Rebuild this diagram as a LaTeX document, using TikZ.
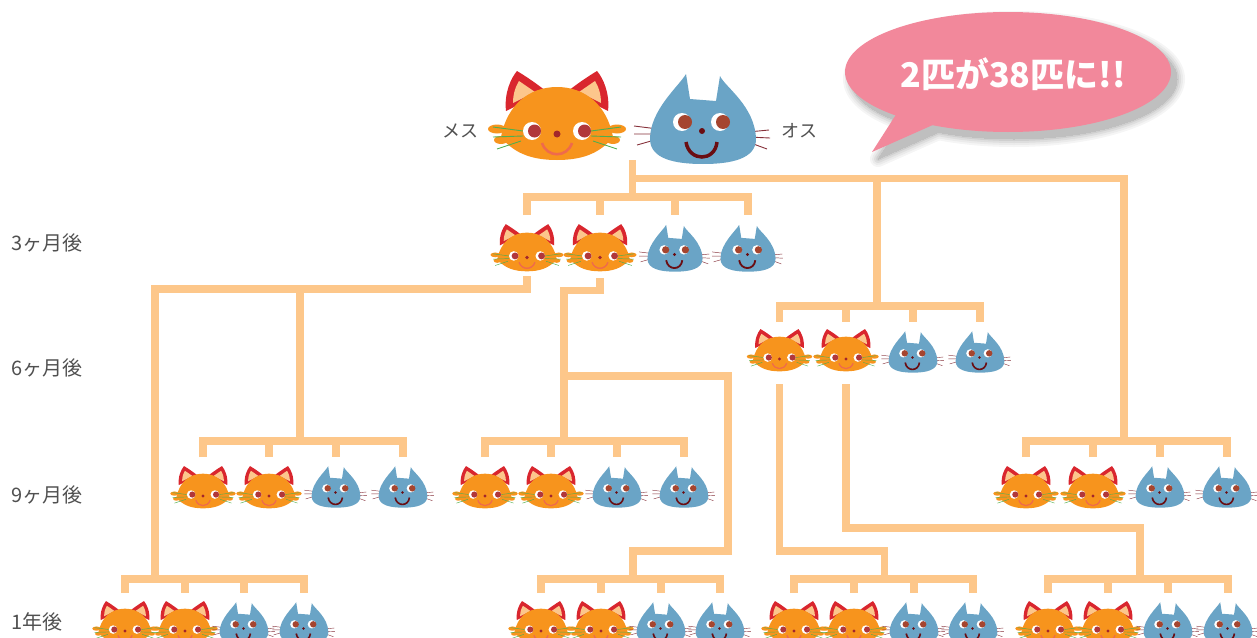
\documentclass[tikz,border=0pt]{standalone}
\usepackage{fontspec}
\setmainfont{Noto Sans CJK JP}
\usetikzlibrary{calc}

\definecolor{treeline}{HTML}{FDC78A}
\definecolor{catorange}{HTML}{F7941D}
\definecolor{earred}{HTML}{D9262E}
\definecolor{earpink}{HTML}{FCC68C}
\definecolor{irisred}{HTML}{B1373A}
\definecolor{noseo}{HTML}{A3262B}
\definecolor{mouthorange}{HTML}{EF6A4C}
\definecolor{whiskgreen}{HTML}{4FAE4F}
\definecolor{catblue}{HTML}{6AA4C6}
\definecolor{irisbrown}{HTML}{A5452F}
\definecolor{darkred}{HTML}{6A0D12}
\definecolor{whiskred}{HTML}{86313A}
\definecolor{bubblepink}{HTML}{F2889B}
\definecolor{labelgrey}{HTML}{505050}

\tikzset{
  tree/.style={draw=treeline, line width=7.5pt},
  agelabel/.style={anchor=west, inner sep=0pt, text=labelgrey, font=\fontsize{20}{20}\selectfont},
  sexlabel/.style={inner sep=0pt, text=labelgrey, font=\fontsize{18}{18}\selectfont},
  % orange (female) cat face, origin at the cheek line
  ocat/.pic={
    \begin{scope}[scale=#1]
      \pgfmathsetmacro\cs{#1}
      % ears
      \fill[earred] (-51,-22) .. controls (-53,-40) and (-46,-55) .. (-40,-62)
        .. controls (-30,-56) and (-20,-49) .. (-11,-42) -- cycle;
      \fill[earpink] (-44,-30) .. controls (-44,-40) and (-41,-47) .. (-38,-52)
        -- (-22,-41) -- cycle;
      \fill[earred] (51,-22) .. controls (53,-40) and (46,-55) .. (40,-62)
        .. controls (30,-56) and (20,-49) .. (11,-42) -- cycle;
      \fill[earpink] (44,-30) .. controls (44,-40) and (41,-47) .. (38,-52)
        -- (22,-41) -- cycle;
      % cheek tufts
      \fill[catorange] (-60,-4) ellipse (9 and 4.5);
      \fill[catorange] (-56,7) ellipse (7 and 4);
      \fill[catorange] (60,-4) ellipse (9 and 4.5);
      \fill[catorange] (56,7) ellipse (7 and 4);
      % head
      \fill[catorange] (-56,4) .. controls (-50,-28) and (-28,-46) .. (0,-46)
        .. controls (28,-46) and (50,-28) .. (56,4)
        .. controls (42,22) and (22,27) .. (0,27)
        .. controls (-22,27) and (-42,22) .. cycle;
      % whiskers
      \draw[whiskgreen, line width=\cs*0.9pt]
        (-34,-2) -- (-64,-6) (-34,3) -- (-64,4) (-36,8) -- (-60,16)
        (34,-2) -- (64,-6) (34,3) -- (64,4) (36,8) -- (60,16);
      % eyes, nose, mouth
      \fill[white] (-25,-2) circle (9);
      \fill[irisred] (-22.5,-2) circle (6.5);
      \fill[white] (25,-2) circle (9);
      \fill[irisred] (27.5,-2) circle (6.5);
      \fill[noseo] (0,1) circle (3.5);
      \draw[mouthorange, line width=\cs*2.6pt] (-15,10) .. controls (-10,25) and (10,25) .. (15,10);
    \end{scope}
  },
  % blue (male) cat face, origin at the cheek line
  bcat/.pic={
    \begin{scope}[scale=#1]
      \pgfmathsetmacro\cs{#1}
      % whiskers
      \draw[whiskred, line width=\cs*0.9pt]
        (-45,-1) -- (-69,-4) (-45,4) -- (-69,4) (-45,9) -- (-66,15)
        (45,2) -- (66,0) (45,7) -- (67,8) (45,12) -- (64,19);
      % head with ears
      \fill[catblue] (-17,-56) -- (-13,-31) -- (13,-29) -- (17,-54)
        .. controls (22,-43) and (52,-24) .. (53,9)
        .. controls (53,29) and (28,34) .. (0,34)
        .. controls (-28,34) and (-53,29) .. (-53,9)
        .. controls (-53,-20) and (-24,-44) .. cycle;
      % eyes, nose, mouth
      \fill[white] (-21,-8) circle (9);
      \fill[irisbrown] (-18,-8) circle (7);
      \fill[white] (17,-8) circle (9);
      \fill[irisbrown] (20,-8) circle (7);
      \fill[darkred] (-1,1) circle (3);
      \draw[darkred, line width=\cs*3.5pt] (-17,12) .. controls (-14,32) and (12,32) .. (14,12);
    \end{scope}
  },
}

% bracket joining four siblings: bar at #5, drops down to #6
\newcommand\litter[6]{%
  \draw[tree] (#1 |- 0,#6) -- (#1 |- 0,#5) -- (#4 |- 0,#5) -- (#4 |- 0,#6);
  \draw[tree] (#2 |- 0,#5) -- (#2 |- 0,#6);
  \draw[tree] (#3 |- 0,#5) -- (#3 |- 0,#6);
}

\begin{document}
\begin{tikzpicture}[x=1pt,y=-1pt]
\useasboundingbox (0,0) rectangle (1257,637);

% ---- positions of the cats ----
\coordinate (mom) at (557,133);
\coordinate (dad) at (703,130);
% 3 months
\coordinate (a1) at (527,257); \coordinate (a2) at (600,257);
\coordinate (a3) at (675,254); \coordinate (a4) at (748,254);
% 6 months
\coordinate (b1) at (779.5,358.5); \coordinate (b2) at (846,358.5);
\coordinate (b3) at (913,357); \coordinate (b4) at (980,357);
% 9 months
\coordinate (c1) at (203,495.5); \coordinate (c2) at (269,495.5);
\coordinate (c3) at (336,492); \coordinate (c4) at (403,492);
\coordinate (d1) at (485,495.5); \coordinate (d2) at (551,495.5);
\coordinate (d3) at (617,492); \coordinate (d4) at (684,492);
\coordinate (e1) at (1026,495.5); \coordinate (e2) at (1093,495.5);
\coordinate (e3) at (1160,492); \coordinate (e4) at (1227,492);
% 1 year
\coordinate (f1) at (125,630.5); \coordinate (f2) at (185,630.5);
\coordinate (f3) at (244,628); \coordinate (f4) at (304,628);
\coordinate (g1) at (541,630.5); \coordinate (g2) at (601,630.5);
\coordinate (g3) at (661,628); \coordinate (g4) at (720,628);
\coordinate (h1) at (794,630.5); \coordinate (h2) at (854,630.5);
\coordinate (h3) at (914,628); \coordinate (h4) at (973,628);
\coordinate (i1) at (1048,630.5); \coordinate (i2) at (1108,630.5);
\coordinate (i3) at (1168,628); \coordinate (i4) at (1228,628);

% junction points where a line meets a sibling bar
\coordinate (stem) at (632.5,160);
\coordinate (jb) at (877,306);
\coordinate (je) at (1124,441);
\coordinate (jc) at (300,441);
\coordinate (jd) at (564,441);
\coordinate (jf) at (155,579);
\coordinate (jg) at (633,579);
\coordinate (jh) at (884.5,579);
\coordinate (ji) at (1140,579);

% ---- family lines ----
\draw[tree] (stem) -- (stem |- 0,197);
\draw[tree] (stem |- 0,178.5) -| (je);
\draw[tree] (jb |- 0,178.5) -- (jb);
\litter{a1}{a2}{a3}{a4}{197}{215}

\draw[tree] (a1 |- 0,276) |- (jf |- 0,289) -- (jf);
\draw[tree] (jc |- 0,289) -- (jc);
\draw[tree] (a2 |- 0,278) |- (jd |- 0,290.5) -- (jd);
\draw[tree] (jd |- 0,376) -| (728,551) -| (jg);

\litter{b1}{b2}{b3}{b4}{306}{322}
\draw[tree] (b1 |- 0,384) -- (b1 |- 0,551) -| (jh);
\draw[tree] (b2 |- 0,384) -- (b2 |- 0,528) -| (ji);

\litter{c1}{c2}{c3}{c4}{441}{457}
\litter{d1}{d2}{d3}{d4}{441}{457}
\litter{e1}{e2}{e3}{e4}{441}{457}
\litter{f1}{f2}{f3}{f4}{579}{593}
\litter{g1}{g2}{g3}{g4}{579}{593}
\litter{h1}{h2}{h3}{h4}{579}{593}
\litter{i1}{i2}{i3}{i4}{579}{593}

% ---- cats ----
\pic at (mom) {ocat=1};
\pic at (dad) {bcat=1};
\foreach \c in {a1,a2} \pic at (\c) {ocat=0.53};
\foreach \c in {a3,a4} \pic at (\c) {bcat=0.52};
\foreach \c in {b1,b2,c1,c2,d1,d2,e1,e2,f1,f2,g1,g2,h1,h2,i1,i2} \pic at (\c) {ocat=0.475};
\foreach \c in {b3,b4,c3,c4,d3,d4,e3,e4,f3,f4,g3,g4,h3,h4,i3,i4} \pic at (\c) {bcat=0.46};

% ---- labels ----
\node[sexlabel] (female) at (460,131) {メス};
\node[sexlabel] (male) at (799,131) {オス};
\node[agelabel] (m3) at (11,243) {3ヶ月後};
\node[agelabel] (m6) at (11,368) {6ヶ月後};
\node[agelabel] (m9) at (11,495) {9ヶ月後};
\node[agelabel] (y1) at (11,622) {1年後};

% ---- speech bubble with soft shadow ----
\foreach \e/\g in {8/4,6/8,4/13,2/19,0/25} {
  \filldraw[shift={(6,7)}, draw=black!\g, fill=black!\g, line width=2*\e pt, line join=round]
    (1008,72) ellipse (163 and 60);
  \filldraw[shift={(6,7)}, draw=black!\g, fill=black!\g, line width=2*\e pt, line join=round]
    (897,113) -- (872,152) -- (935,124) -- cycle;
}
\fill[bubblepink] (1008,72) ellipse (163 and 60);
\fill[bubblepink] (897,113) -- (872,152) -- (935,124) -- cycle;
\node[text=white, font=\bfseries\fontsize{34}{34}\selectfont] (slogan) at (1013,74) {2匹が38匹に!!};
\end{tikzpicture}
\end{document}
